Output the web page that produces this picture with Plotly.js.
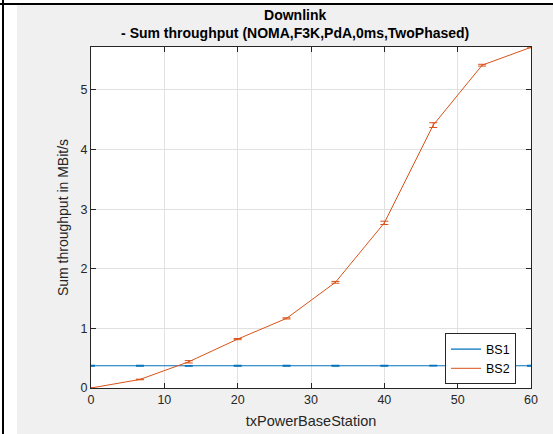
<!DOCTYPE html>
<html>
<head>
<meta charset="utf-8">
<script src="https://cdn.plot.ly/plotly-3.0.1.min.js"></script>
<style>
  html, body { margin: 0; padding: 0; background: #ffffff; width: 553px; height: 434px; overflow: hidden; }
  #lineLeft { position: absolute; left: 2px; top: 0; width: 2px; height: 434px; background: #000; }
  #lineTop { position: absolute; left: 0; top: 3px; width: 553px; height: 2px; background: #000; }
  #plot { position: absolute; left: 17px; top: 5px; width: 536px; height: 429px; }
</style>
</head>
<body>
<div id="lineLeft"></div>
<div id="lineTop"></div>
<div id="plot"></div>
<script>
// Data
const txPower = [0, 6.667, 13.333, 20, 26.667, 33.333, 40, 46.667, 53.333, 60];
const bs1Throughput = [0.373, 0.373, 0.372, 0.373, 0.373, 0.373, 0.373, 0.374, 0.373, 0.373];
const bs1Error = [0.005, 0.005, 0.005, 0.005, 0.005, 0.005, 0.005, 0.005, 0.005, 0.005];
const bs2Throughput = [0.0, 0.143, 0.44, 0.82, 1.168, 1.773, 2.77, 4.41, 5.415, 5.715];
const bs2Error = [0.003, 0.005, 0.02, 0.01, 0.01, 0.015, 0.028, 0.04, 0.015, 0.01];
const seriesNames = ['BS1', 'BS2'];
const yTicks = [0, 1, 2, 3, 4, 5];
const xTicks = [0, 10, 20, 30, 40, 50, 60];

const fontFamily = '"Liberation Sans", Arial, Helvetica, sans-serif';
const traces = [
  {
    x: txPower, y: bs1Throughput, name: seriesNames[0], type: 'scatter', mode: 'lines',
    line: {color: '#0072BD', width: 1.2},
    error_y: {type: 'data', array: bs1Error, visible: true, color: '#0072BD', thickness: 1.2, width: 4},
    cliponaxis: false
  },
  {
    x: txPower, y: bs2Throughput, name: seriesNames[1], type: 'scatter', mode: 'lines',
    line: {color: '#D95319', width: 1},
    error_y: {type: 'data', array: bs2Error, visible: true, color: '#D95319', thickness: 1, width: 4},
    cliponaxis: false
  }
];

const axisCommon = {
  showline: true, linecolor: '#262626', linewidth: 1, mirror: 'ticks',
  ticks: 'inside', ticklen: 5, tickcolor: '#262626', tickwidth: 1,
  showgrid: true, gridcolor: '#e1e1e1', gridwidth: 1, zeroline: false,
  tickfont: {family: fontFamily, size: 12.5, color: '#262626'}
};

const layout = {
  width: 536, height: 429,
  paper_bgcolor: '#f0f0f0', plot_bgcolor: '#ffffff',
  margin: {l: 74, r: 22, t: 42, b: 46, pad: 0},
  font: {family: fontFamily, color: '#262626'},
  title: {
    text: '<b>Downlink<br>- Sum throughput (NOMA,F3K,PdA,0ms,TwoPhased)</b>',
    font: {family: fontFamily, size: 14, color: '#000000'},
    xref: 'container', x: 0.519, xanchor: 'center',
    yref: 'container', y: 0.965, yanchor: 'top'
  },
  xaxis: Object.assign({}, axisCommon, {
    range: [0, 60], tickvals: xTicks, ticktext: xTicks.map(String),
    title: {text: 'txPowerBaseStation', font: {family: fontFamily, size: 14.5, color: '#262626'}, standoff: 9}
  }),
  yaxis: Object.assign({}, axisCommon, {
    range: [0, 5.72], tickvals: yTicks, ticktext: yTicks.map(String),
    title: {text: 'Sum throughput in MBit/s', font: {family: fontFamily, size: 14, color: '#262626'}, standoff: 8}
  }),
  showlegend: true,
  legend: {
    x: 0.8045, y: 0.16, xanchor: 'left', yanchor: 'top',
    bgcolor: '#ffffff', bordercolor: '#262626', borderwidth: 1,
    font: {family: fontFamily, size: 12.5, color: '#000000'},
    tracegroupgap: 0, itemwidth: 30
  }
};

Plotly.newPlot('plot', traces, layout, {displayModeBar: false, staticPlot: true});
</script>
</body>
</html>
